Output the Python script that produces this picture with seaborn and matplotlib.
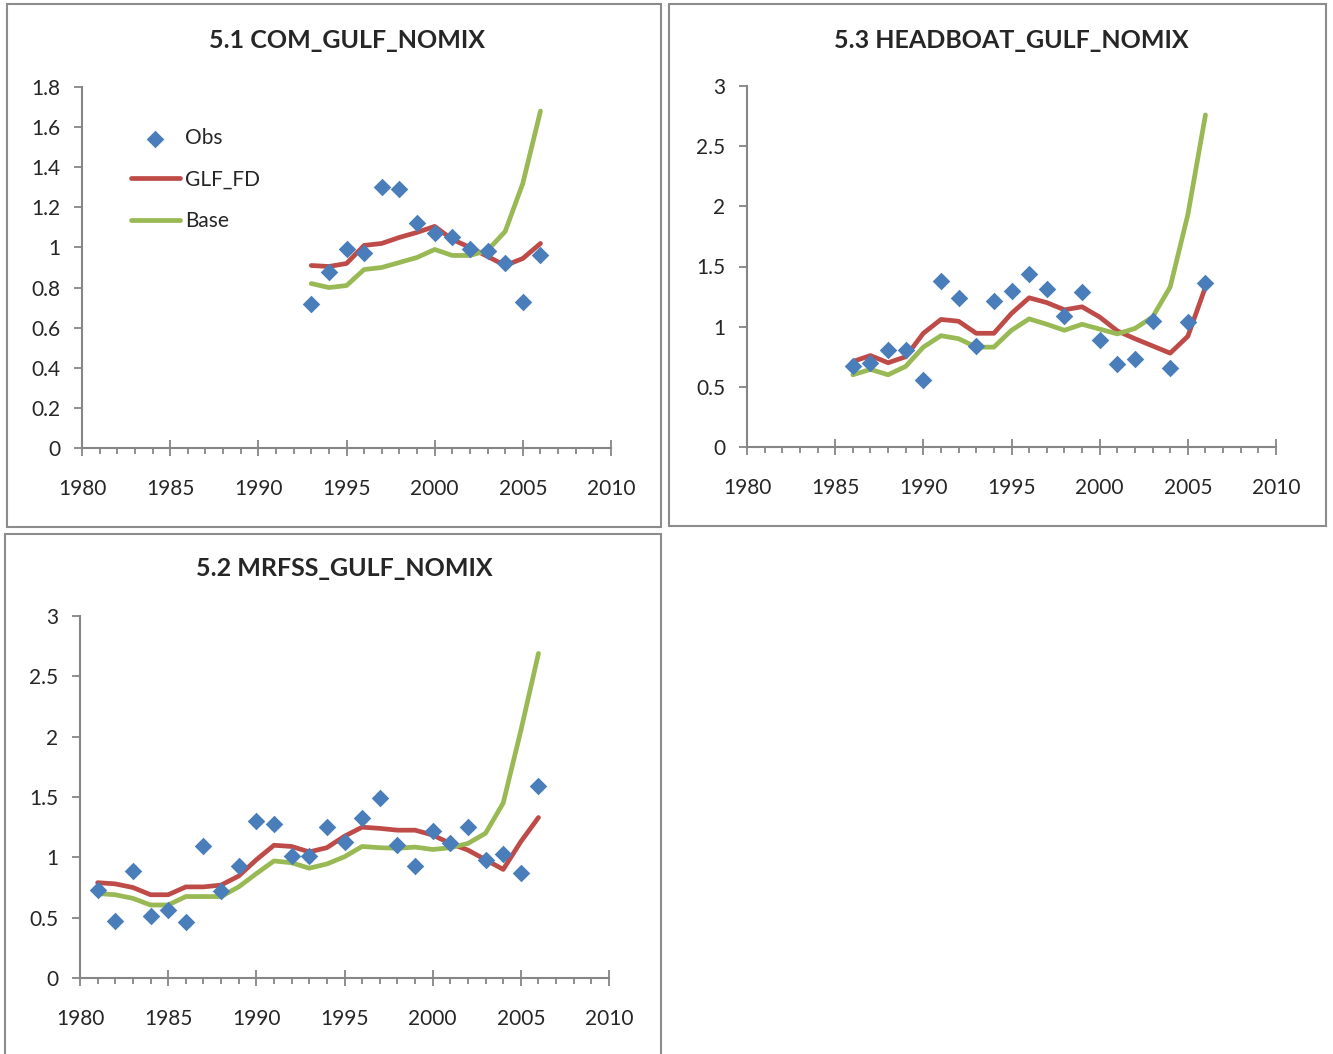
import numpy as np
import pandas as pd
import matplotlib
matplotlib.use("Agg")
import matplotlib.pyplot as plt
import seaborn as sns
from matplotlib.patches import Rectangle
from matplotlib.ticker import MultipleLocator, FuncFormatter

# 5.1 COM_GULF_NOMIX
com_years = list(range(1993, 2007))
com_obs = [0.72, 0.88, 0.99, 0.97, 1.30, 1.29, 1.12, 1.07, 1.05, 0.99, 0.98, 0.92, 0.73, 0.96]
com_fd = [0.91, 0.905, 0.92, 1.01, 1.02, 1.05, 1.075, 1.105, 1.04, 1.0, 0.955, 0.91, 0.945, 1.02]
com_base = [0.82, 0.80, 0.81, 0.89, 0.90, 0.925, 0.95, 0.99, 0.96, 0.96, 0.985, 1.08, 1.32, 1.68]

# 5.3 HEADBOAT_GULF_NOMIX
hb_years = list(range(1986, 2007))
hb_obs = [0.67, 0.70, 0.81, 0.81, 0.56, 1.38, 1.24, 0.84, 1.21, 1.30, 1.44,
          1.31, 1.09, 1.29, 0.89, 0.69, 0.73, 1.05, 0.66, 1.04, 1.36]
hb_fd = [0.71, 0.76, 0.70, 0.75, 0.945, 1.06, 1.045, 0.945, 0.945, 1.11, 1.24,
         1.20, 1.14, 1.165, 1.08, 0.965, 0.90, 0.84, 0.78, 0.92, 1.33]
hb_base = [0.60, 0.645, 0.60, 0.67, 0.83, 0.925, 0.90, 0.83, 0.83, 0.97, 1.065,
           1.02, 0.97, 1.02, 0.98, 0.94, 0.985, 1.08, 1.33, 1.93, 2.76]

# 5.2 MRFSS_GULF_NOMIX
mrf_years = list(range(1981, 2007))
mrf_obs = [0.73, 0.47, 0.89, 0.51, 0.56, 0.46, 1.09, 0.72, 0.93, 1.30, 1.28, 1.01, 1.01,
           1.25, 1.13, 1.33, 1.49, 1.10, 0.93, 1.22, 1.12, 1.25, 0.98, 1.03, 0.87, 1.59]
mrf_fd = [0.79, 0.78, 0.75, 0.69, 0.69, 0.755, 0.755, 0.77, 0.845, 0.98, 1.10, 1.09, 1.045,
          1.08, 1.175, 1.25, 1.24, 1.225, 1.225, 1.185, 1.115, 1.06, 0.98, 0.90, 1.13, 1.33]
mrf_base = [0.70, 0.69, 0.66, 0.605, 0.605, 0.675, 0.675, 0.675, 0.755, 0.865, 0.97, 0.955, 0.91,
            0.945, 1.005, 1.09, 1.08, 1.075, 1.085, 1.065, 1.08, 1.115, 1.20, 1.45, 2.05, 2.69]

OBS_C = "#4A7EBB"
FD_C = "#BE4B48"
BASE_C = "#98B954"
AX_C = "#868686"

sns.set_style("white")
plt.rcParams["font.family"] = ["Lato", "DejaVu Sans"]

W, H = 1333, 1054
fig = plt.figure(figsize=(W / 100, H / 100), dpi=100)


def px_axes(x0, y0, x1, y1):
    # pixel box (top-left origin) -> figure axes
    return fig.add_axes([x0 / W, 1 - y1 / H, (x1 - x0) / W, (y1 - y0) / H])


def draw_panel(ax, years, obs, fd, base, ymax, ystep, title):
    df = pd.DataFrame({"year": years, "Obs": obs, "GLF_FD": fd, "Base": base})
    sns.lineplot(data=df, x="year", y="GLF_FD", color=FD_C, lw=3.4, ax=ax,
                 label="GLF_FD", zorder=2)
    sns.lineplot(data=df, x="year", y="Base", color=BASE_C, lw=3.4, ax=ax,
                 label="Base", zorder=2)
    sns.scatterplot(data=df, x="year", y="Obs", color=OBS_C, marker="D", s=80,
                    linewidth=0, ax=ax, label="Obs", zorder=3)
    ax.set_xlim(1980, 2010)
    ax.set_ylim(0, ymax)
    ax.set_xlabel("")
    ax.set_ylabel("")
    ax.xaxis.set_major_locator(MultipleLocator(5))
    ax.xaxis.set_minor_locator(MultipleLocator(1))
    ax.yaxis.set_major_locator(MultipleLocator(ystep))
    ax.yaxis.set_major_formatter(FuncFormatter(lambda v, p: f"{v:g}"))
    for s in ["top", "right"]:
        ax.spines[s].set_visible(False)
    for s in ["left", "bottom"]:
        ax.spines[s].set_color(AX_C)
        ax.spines[s].set_linewidth(1.5)
    ax.tick_params(axis="x", which="major", direction="inout", length=11, width=1.3,
                   color=AX_C, labelsize=15, pad=17, bottom=True)
    ax.tick_params(axis="x", which="minor", direction="out", length=4.5, width=1.3,
                   color=AX_C, bottom=True)
    ax.tick_params(axis="y", which="major", direction="out", length=5.5, width=1.3,
                   color=AX_C, labelsize=15, pad=10, left=True)
    ax.get_legend().remove()
    ax.set_facecolor("none")
    bb = ax.get_position()
    fig.text((bb.x0 + bb.x1) / 2, title[1], title[0], ha="center", va="center",
             fontsize=18, fontweight="bold")


# chart area borders
for (x0, y0, x1, y1) in [(7, 4, 661, 527), (669, 4, 1326, 526), (5, 534, 661, 1056)]:
    fig.patches.append(Rectangle((x0 / W, 1 - y1 / H), (x1 - x0) / W, (y1 - y0) / H,
                                 transform=fig.transFigure, fill=False,
                                 edgecolor="#8C8C8C", lw=1.5))

ax1 = px_axes(82, 87, 611, 448)
draw_panel(ax1, com_years, com_obs, com_fd, com_base, 1.8, 0.2,
           ("5.1 COM_GULF_NOMIX", 1 - 40 / H))

ax2 = px_axes(747, 86, 1276, 447)
draw_panel(ax2, hb_years, hb_obs, hb_fd, hb_base, 3, 0.5,
           ("5.3 HEADBOAT_GULF_NOMIX", 1 - 40 / H))

ax3 = px_axes(80, 616, 609, 978)
draw_panel(ax3, mrf_years, mrf_obs, mrf_fd, mrf_base, 3, 0.5,
           ("5.2 MRFSS_GULF_NOMIX", 1 - 569 / H))

# legend in the first panel
h, l = ax1.get_legend_handles_labels()
order = [l.index("Obs"), l.index("GLF_FD"), l.index("Base")]
ax1.legend([h[i] for i in order], [l[i] for i in order], loc="upper left",
           bbox_to_anchor=(131 / W, 1 - 128 / H), bbox_transform=fig.transFigure,
           frameon=False, fontsize=15, handlelength=2.35, handletextpad=0.25,
           labelspacing=1.03, borderpad=0, borderaxespad=0)

fig.savefig("out.png", dpi=100, facecolor="white")
